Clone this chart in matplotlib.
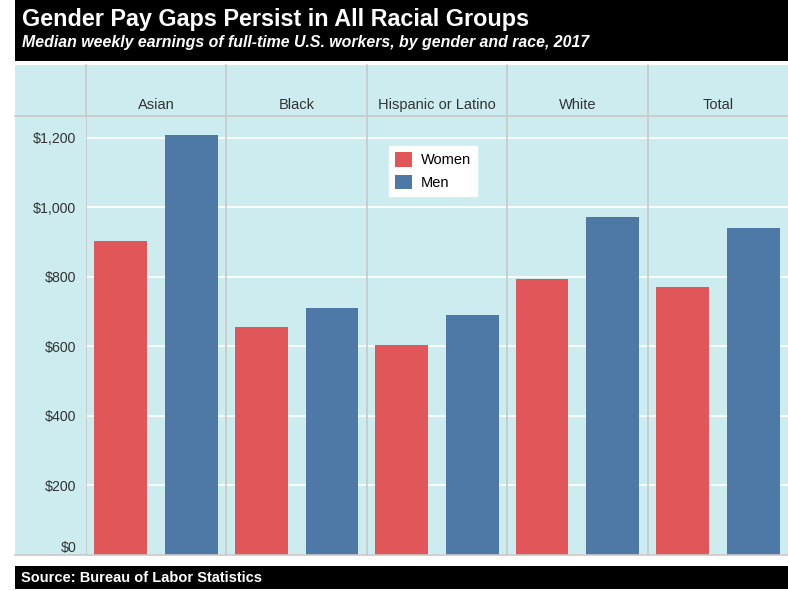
import matplotlib
matplotlib.use("Agg")
import matplotlib.pyplot as plt
from matplotlib.patches import Rectangle, Patch

plt.rcParams['font.family'] = ['Liberation Sans', 'DejaVu Sans']

categories = ["Asian", "Black", "Hispanic or Latino", "White", "Total"]
women = [903, 657, 603, 795, 770]
men = [1207, 710, 690, 971, 941]
yticks = [0, 200, 400, 600, 800, 1000, 1200]
ytick_labels = ["$0", "$200", "$400", "$600", "$800", "$1,000", "$1,200"]

W, H = 788, 591
fig = plt.figure(figsize=(W / 100, H / 100), dpi=100)
fig.patch.set_facecolor("white")

BG = "#CCECEF"
GRID = "#C8C8C8"
RED = "#E15759"
BLUE = "#4E79A7"

def fx(px):
    return px / W

def fy(py):
    return 1 - py / H

# title band
fig.patches.append(Rectangle((fx(15), fy(61)), fx(W - 15), 61 / H, transform=fig.transFigure,
                             facecolor="black", edgecolor="none", zorder=-2))
fig.text(fx(22), fy(19.5), "Gender Pay Gaps Persist in All Racial Groups", color="white",
         fontsize=16.8, fontweight="bold", va="center", ha="left")
fig.text(fx(22), fy(42.5), "Median weekly earnings of full-time U.S. workers, by gender and race, 2017",
         color="white", fontsize=11.4, fontweight="bold", style="italic", va="center", ha="left")

# cyan panel background (left strip)
fig.patches.append(Rectangle((fx(15), fy(555)), fx(W - 15), (555 - 65) / H, transform=fig.transFigure,
                             facecolor=BG, edgecolor="none", zorder=-2))

# source band
fig.patches.append(Rectangle((fx(15), fy(589)), fx(W - 15), 23 / H, transform=fig.transFigure,
                             facecolor="black", edgecolor="none", zorder=-2))
fig.text(fx(21), fy(577.5), "Source: Bureau of Labor Statistics", color="white",
         fontsize=10.5, fontweight="bold", va="center", ha="left")

# header axes
hx0, hx1 = 86, W
hax = fig.add_axes([fx(hx0), fy(116), fx(hx1 - hx0), (116 - 65) / H])
hax.set_facecolor(BG)
hax.set_xlim(-0.5, len(categories) - 0.5)
hax.set_ylim(0, 1)
for s in hax.spines.values():
    s.set_visible(False)
hax.set_xticks([])
hax.set_yticks([])
for i, c in enumerate(categories):
    hax.text(i, 0.22, c, ha="center", va="center", fontsize=10.5, color="#333333")
for b in [i - 0.5 for i in range(len(categories))]:
    hax.axvline(b, color=GRID, lw=1.2, clip_on=False)

# main axes
ax = fig.add_axes([fx(hx0), fy(555), fx(hx1 - hx0), (555 - 116) / H])
ax.set_facecolor(BG)
n = len(categories)
xs = list(range(n))
off = 0.252
bw = 0.376
ax.bar([x - off for x in xs], women, width=bw, color=RED, label="Women", zorder=3)
ax.bar([x + off for x in xs], men, width=bw, color=BLUE, label="Men", zorder=3)
ax.set_xlim(-0.5, n - 0.5)
ax.set_ylim(0, 1263)
ax.set_yticks(yticks)
ax.set_yticklabels(ytick_labels, fontsize=10.2, color="#333333")
ax.tick_params(axis="y", length=0, pad=7)
ax.get_yticklabels()[0].set_verticalalignment("bottom")
ax.set_xticks([])
ax.grid(axis="y", color="white", lw=1.3, zorder=1)
for b in [i - 0.5 for i in range(n)]:
    ax.axvline(b, color=GRID, lw=1.2, zorder=2)
for s in ax.spines.values():
    s.set_visible(False)

# header/plot separator and bottom line spanning from left strip
fig.add_artist(plt.Line2D([fx(15), 1], [fy(116), fy(116)], color=GRID, lw=1.2, transform=fig.transFigure))
fig.add_artist(plt.Line2D([fx(15), 1], [fy(555), fy(555)], color=GRID, lw=1.2, transform=fig.transFigure))

handles = [Patch(facecolor=RED, label="Women"), Patch(facecolor=BLUE, label="Men")]
leg = ax.legend(handles=handles, loc="upper left", bbox_to_anchor=((389 - hx0) / (hx1 - hx0), (555 - 146) / (555 - 116)),
                frameon=True, fancybox=False, fontsize=10.5, handlelength=1.2, handleheight=1.2,
                borderpad=0.4, labelspacing=0.5, handletextpad=0.6, borderaxespad=0)
leg.get_frame().set_edgecolor("white")
leg.get_frame().set_facecolor("white")
leg.get_frame().set_alpha(1)

fig.savefig("out.png", dpi=100, facecolor="white")
